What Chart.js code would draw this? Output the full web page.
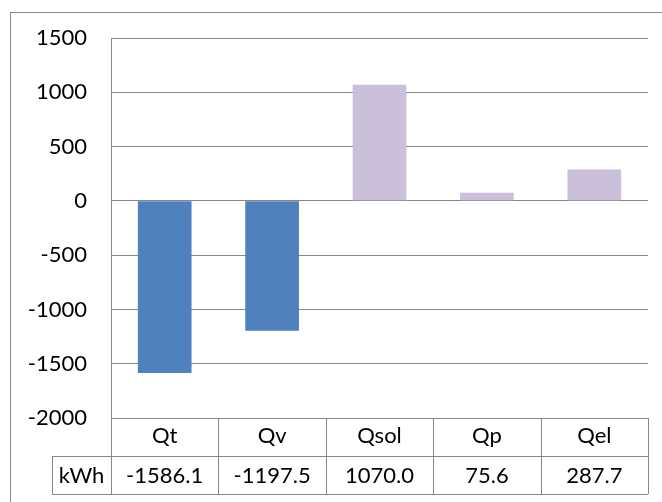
<!DOCTYPE html>
<html>
<head>
<meta charset="utf-8">
<script src="https://cdn.jsdelivr.net/npm/chart.js@4"></script>
<style>
  html, body { margin: 0; padding: 0; background: #fff; }
  #wrap { width: 662px; height: 502px; }
</style>
</head>
<body>
<div id="wrap"><canvas id="energyChart" width="662" height="502"></canvas></div>
<script>
// Energy balance (kWh)
const categories = ['Qt', 'Qv', 'Qsol', 'Qp', 'Qel'];
const kwhValues = [-1586.1, -1197.5, 1070.0, 75.6, 287.7];
const seriesName = 'kWh';
const yTicks = [-2000, -1500, -1000, -500, 0, 500, 1000, 1500];

const FONT = 'Lato, "Open Sans", sans-serif';
const FONT_SIZE = 22;
const LINE = '#878787';

// draws the frame and the data table under the plot
const dataTable = {
    id: 'dataTable',
    afterDraw(chart) {
        const c = chart.ctx;
        const x = chart.scales.x;
        const area = chart.chartArea;
        const rowH = 38;
        const top = area.bottom;
        const mid = top + rowH;
        const bot = mid + rowH;
        const labelLeft = 52;

        c.save();
        c.strokeStyle = LINE;
        c.lineWidth = 1;

        // outer chart frame
        c.strokeRect(10.5, 12.5, 800, 800);

        c.beginPath();
        c.moveTo(area.left, top + 0.5); c.lineTo(area.right, top + 0.5);
        c.moveTo(labelLeft, mid + 0.5); c.lineTo(area.right, mid + 0.5);
        c.moveTo(labelLeft, bot + 0.5); c.lineTo(area.right, bot + 0.5);
        c.moveTo(labelLeft + 0.5, mid); c.lineTo(labelLeft + 0.5, bot);
        const step = (area.right - area.left) / categories.length;
        for (let i = 0; i <= categories.length; i++) {
            const lx = Math.round(area.left + step * i) + 0.5;
            c.moveTo(lx, top); c.lineTo(lx, bot);
        }
        c.stroke();

        c.fillStyle = '#000';
        c.font = FONT_SIZE + 'px ' + FONT;
        c.textAlign = 'center';
        c.textBaseline = 'middle';
        c.fillText(seriesName, (labelLeft + area.left) / 2, mid + rowH / 2 + 1);
        kwhValues.forEach((v, i) => {
            c.fillText(v.toFixed(1), x.getPixelForValue(i), mid + rowH / 2 + 1);
        });
        c.restore();
    }
};

const ctx = document.getElementById('energyChart').getContext('2d');
const energyChart = new Chart(ctx, {
    type: 'bar',
    data: {
        labels: categories,
        datasets: [{
            label: seriesName,
            data: kwhValues,
            backgroundColor: c => c.raw < 0 ? '#4F81BD' : '#CBC0DA',
            borderWidth: 0,
            barPercentage: 0.5,
            categoryPercentage: 1
        }]
    },
    options: {
        responsive: false,
        animation: false,
        layout: { padding: { top: 38, right: 14, left: 0, bottom: 0 } },
        plugins: {
            legend: { display: false },
            tooltip: { enabled: false }
        },
        scales: {
            x: {
                grid: { display: false, drawTicks: false },
                border: { display: false },
                ticks: {
                    color: '#000',
                    font: { family: FONT, size: FONT_SIZE },
                    padding: 5
                },
                afterFit(scale) { scale.height = 84; }
            },
            y: {
                min: -2000,
                max: 1500,
                afterBuildTicks(scale) { scale.ticks = yTicks.map(v => ({ value: v })); },
                grid: { color: LINE, drawTicks: false },
                border: { display: true, color: LINE },
                ticks: {
                    color: '#000',
                    font: { family: FONT, size: FONT_SIZE },
                    padding: 24,
                    callback: v => String(v)
                },
                afterFit(scale) { scale.width = 111; }
            }
        }
    },
    plugins: [dataTable]
});
</script>
</body>
</html>
